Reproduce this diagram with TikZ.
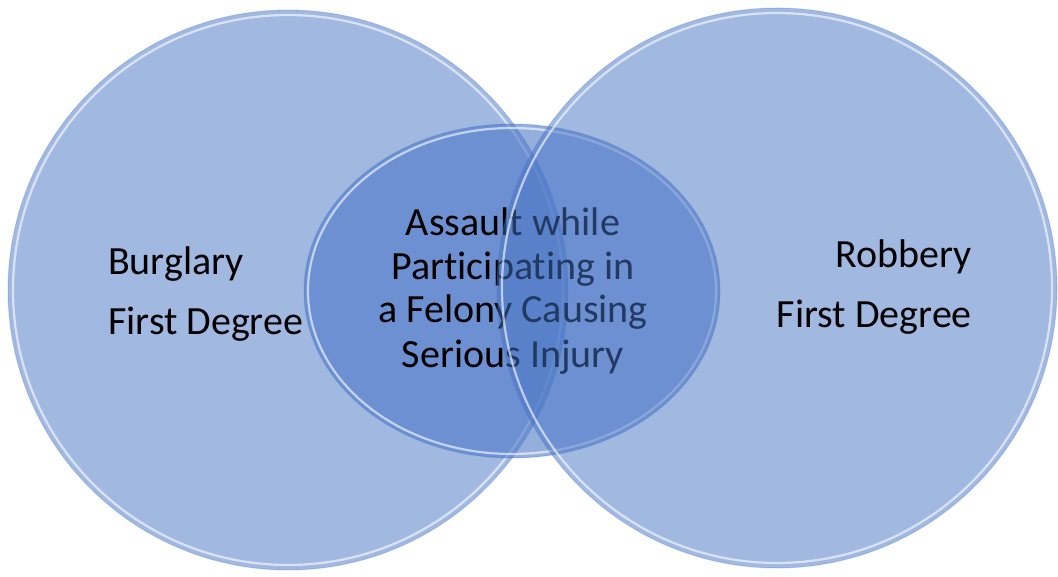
\documentclass[tikz,border=0pt]{standalone}
\usepackage{fontspec}
\setmainfont{Carlito}[Ligatures=CommonOff]
\usepackage{xcolor}
\definecolor{vennblue}{HTML}{4472C4}

\begin{document}
\begin{tikzpicture}[x=1pt,y=-1pt]
    \useasboundingbox (0,0) rectangle (1058,577);
    \tikzset{
        venn/.style={circle, fill=vennblue, fill opacity=0.5, draw=vennblue, draw opacity=0.25, line width=1pt, inner sep=0pt},
        rim/.style={white, draw opacity=0.6, line width=2.2pt},
        label/.style={font=\fontsize{40}{44}\selectfont, text=black, inner sep=0pt}
    }

    % Draw the left circle
    \node[venn, minimum size=560pt] (burglary) at (288,290) {};
    \draw[rim] (288,290) circle (275);
    \node[label, anchor=base west] (burgl) at (108,275) {Burglary};
    \node[label, anchor=base west] (burgdeg) at (108,335) {First Degree};

    % Draw the middle ellipse
    \fill[vennblue, fill opacity=0.57] (512,291) ellipse (208 and 167);
    \draw[vennblue, draw opacity=0.3, line width=1pt] (512,291) ellipse (208 and 167);
    \draw[rim] (512,291) ellipse (204 and 163);
    \node[label, align=center, anchor=base] (assault) at (513,367)
        {Assault while\\Participating in\\a Felony Causing\\Serious Injury};

    % Draw the right circle on top
    \node[venn, minimum size=560pt] (robbery) at (777,288) {};
    \draw[rim] (777,288) circle (275);
    \node[label, anchor=base east] (robb) at (972,268) {Robbery};
    \node[label, anchor=base east] (robbdeg) at (972,328) {First Degree};
\end{tikzpicture}
\end{document}
